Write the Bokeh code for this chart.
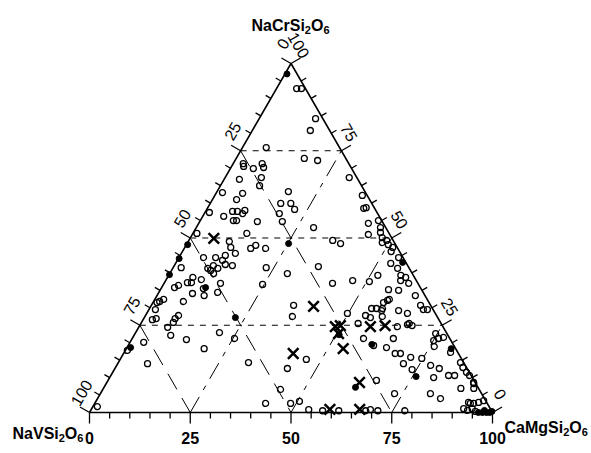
import numpy as np
from bokeh.plotting import figure
from bokeh.models import Range1d
from bokeh.embed import file_html
from bokeh.resources import INLINE
from bokeh.core.properties import value

# Compositions in mol %: CaMgSi2O6 (camg) and NaCrSi2O6 (nacr); NaVSi2O6 = 100 - camg - nacr
open_camg = [5.0, 6.2, 14.0, 14.4, 5.9, 16.9, 20.5, 2.5, 3.0, 5.7, 7.2, 8.1, 9.0, 9.7, 3.8, 6.6, 6.0, 1.5,
             6.7, 7.9, 9.6, 9.5, 8.2, 9.0, 5.2, 1.1, 14.3, 17.7, 17.5, 20.0, 21.8, 18.6, 20.5, 29.1, 30.8,
             36.6, 38.8, 39.3, 42.1, 43.7, 44.2, 45.7, 46.4, 47.6, 48.3, 49.1, 50.1, 51.6, 51.8, 54.5, 53.4,
             35.7, 38.1, 1.0, 10.2, 11.4, 13.4, 16.5, 17.3, 13.4, 20.2, 6.1, 9.1, 11.2, 11.2, 8.7, 9.7,
             12.5, 14.4, 23.1, 35.9, 2.0, 6.3, 5.7, 6.7, 8.7, 10.5, 11.7, 14.6, 14.0, 8.5, 7.4, 3.9, 3.2,
             24.6, 1.0, 1.5, 2.2, 1.6, 2.3, 3.1, 8.2, 7.8, 7.9, 7.2, 9.1, 3.4, 0.5, 7.4, 13.6, 9.7, 10.9,
             11.2, 29.2, 35.3, 36.6, 20.8, 25.4, 19.3, 32.3, 42.8, 44.1, 42.4, 48.6, 50.5, 54.0, 46.2,
             57.6, 61.6, 68.3, 69.3, 71.3, 78.0, 41.8, 46.4, 50.7, 51.9, 55.8, 57.6, 59.1, 60.7, 58.3,
             59.2, 56.6, 57.9, 57.8, 64.1, 66.8, 68.1, 69.1, 64.7, 62.1, 66.6, 67.6, 66.3, 64.1, 64.8,
             64.4, 67.4, 68.7, 71.8, 70.9, 73.9, 80.4, 83.8, 85.3, 77.9, 80.5, 74.7, 74.6, 76.0, 75.1,
             77.1, 81.0, 84.9, 86.2, 87.8, 89.0, 88.7, 91.0, 91.9, 81.9, 85.1, 73.0, 92.6, 94.0, 95.1,
             96.1, 92.3, 49.8, 53.9, 57.4, 55.1, 56.3, 57.9, 58.2, 57.2, 54.6, 56.1, 58.9, 60.9, 66.6,
             1.1, 76.1, 91.2, 93.2, 93.5, 94.4, 95.6]
open_nacr = [92.8, 92.8, 84.2, 80.8, 75.9, 72.8, 72.2, 71.3, 70.5, 69.9, 71.3, 70.2, 67.3, 65.0, 66.8, 62.8,
             61.0, 63.0, 57.6, 57.6, 57.9, 57.0, 55.0, 55.0, 56.2, 57.3, 54.7, 63.3, 59.9, 59.9, 58.2,
             57.0, 54.7, 53.0, 67.3, 62.2, 58.5, 58.7, 54.2, 51.0, 55.0, 53.0, 51.6, 50.1, 48.7, 49.3,
             48.1, 47.3, 46.1, 44.4, 42.7, 49.3, 48.4, 51.3, 49.0, 47.3, 45.6, 47.0, 47.9, 51.3, 47.0,
             44.4, 44.4, 43.6, 45.0, 41.3, 42.1, 42.4, 42.1, 41.5, 41.8, 41.5, 38.7, 37.2, 37.2, 38.1,
             35.5, 33.5, 34.4, 37.0, 34.1, 31.8, 36.4, 35.8, 36.7, 31.5, 31.8, 32.4, 29.5, 26.6, 26.9,
             27.8, 26.9, 25.8, 24.4, 22.1, 20.1, 17.8, 14.0, 20.9, 40.7, 39.8, 41.3, 39.8, 30.7, 27.5,
             22.9, 21.2, 18.3, 14.3, 12.6, 6.6, 2.6, 2.6, 3.2, 0.8, 15.2, 0.5, 0.5, 0.5, 0.8, 0.5, 0.5,
             37.0, 37.8, 37.5, 39.3, 41.3, 39.3, 38.7, 37.0, 37.8, 35.0, 35.2, 32.1, 29.8, 33.5, 30.7,
             29.5, 29.5, 28.4, 29.2, 25.5, 24.9, 25.2, 24.6, 21.2, 18.6, 16.9, 16.9, 15.8, 14.0, 12.3,
             10.0, 10.6, 10.6, 13.5, 12.6, 15.5, 22.6, 21.2, 20.6, 21.5, 17.2, 14.3, 12.9, 11.5, 10.6,
             6.9, 8.6, 6.9, 5.4, 4.0, 5.4, 2.9, 2.6, 2.9, 3.4, 1.1, 28.4, 25.5, 21.2, 29.8, 29.8, 29.2,
             32.4, 31.5, 27.8, 27.2, 27.5, 19.2, 9.2, 1.7, 18.9, 8.3, 2.6, 0.6, 1.1, 0.3]

filled_camg = [0.5, 0.3, 25.2, 0.2, 0.1, 22.6, 0.9, 10.9, 60.3, 62.4, 56.2, 75.9, 80.6, 50.8,
               96.5, 97.5, 98.5, 99.3, 99.7, 97.7]
filled_nacr = [97.0, 48.1, 48.4, 44.1, 39.5, 27.2, 18.6, 35.8, 19.5, 7.2, 43.0, 10.3, 18.3, 22.3,
               0.0, 0.0, 0.0, 0.0, 0.3, 0.6]

cross_camg = [5.9, 40.4, 48.7, 49.8, 50.5, 53.8, 57.4, 60.9, 42.1, 62.7, 66.6, 59.2]
cross_nacr = [49.9, 30.4, 24.6, 24.9, 22.6, 18.3, 24.6, 24.9, 16.9, 8.6, 0.9, 0.9]

grid_levels = [25, 50, 75]
tick_labels = ["0", "25", "50", "75", "100"]
tick_major = [0, 25, 50, 75, 100]
tick_minor = [5, 10, 15, 20, 30, 35, 40, 45, 55, 60, 65, 70, 80, 85, 90, 95]

# end-member labels: (text, is_subscript) pieces
label_top = [("NaCrSi", False), ("2", True), ("O", False), ("6", True)]
label_left = [("NaVSi", False), ("2", True), ("O", False), ("6", True)]
label_right = [("CaMgSi", False), ("2", True), ("O", False), ("6", True)]

H = np.sqrt(3) / 2
PX = 4.03  # pixels per composition unit


def tern(c, r):
    c = np.asarray(c, dtype=float)
    r = np.asarray(r, dtype=float)
    return c + r / 2, r * H


W, HT = 591, 453
x0 = -89 / PX
y1 = 412 / PX
p = figure(width=W, height=HT, x_range=Range1d(x0, x0 + W / PX), y_range=Range1d(y1 - HT / PX, y1),
           toolbar_location=None, output_backend="svg", min_border=0)
p.axis.visible = False
p.grid.visible = False
p.outline_line_color = None
p.background_fill_color = "white"


def px2x(px):
    return (px - 89) / PX


def py2y(py):
    return (412 - py) / PX


# grid lines
lv = np.array(grid_levels, dtype=float)
hx0, hy0 = tern(np.zeros(3), lv)
hx1, hy1 = tern(100 - lv, lv)
p.segment(hx0, hy0, hx1, hy1, line_color="black", line_width=1, line_dash="6 6")
vx0, vy0 = tern(np.zeros(3), 100 - lv)
vx1, vy1 = tern(100 - lv, np.zeros(3))
p.segment(vx0, vy0, vx1, vy1, line_color="black", line_width=1, line_dash="18 10")
cx0, cy0 = tern(lv, np.zeros(3))
cx1, cy1 = tern(lv, 100 - lv)
p.segment(cx0, cy0, cx1, cy1, line_color="black", line_width=1, line_dash="18 8 5 8")

# triangle outline
tx, ty = tern([0, 100, 0, 0], [0, 0, 100, 0])
p.line(tx, ty, line_color="black", line_width=1.6)


# ticks
def ticks(vals, length):
    v = np.array(vals, dtype=float)
    L = length / PX
    bx, by = tern(v, np.zeros_like(v))
    lx, ly = tern(np.zeros_like(v), 100 - v)
    rx, ry = tern(100 - v, v)
    xs0 = np.concatenate([bx, lx, rx])
    ys0 = np.concatenate([by, ly, ry])
    xs1 = np.concatenate([bx, lx - L * H, rx + L * H])
    ys1 = np.concatenate([by - L, ly + L * 0.5, ry + L * 0.5])
    p.segment(xs0, ys0, xs1, ys1, line_color="black", line_width=1.3)


ticks(tick_minor, 6)
ticks(tick_major, 11)

# tick labels
tm = np.array(tick_major, dtype=float)
bx, by = tern(tm, np.zeros_like(tm))
p.text(bx, by - 25 / PX, text=tick_labels, text_align="center", text_baseline="middle",
       text_font=value("Liberation Sans"), text_font_style="bold", text_font_size="16px")
lx, ly = tern(np.zeros_like(tm), 100 - tm)
lx = lx + (17 / PX) * (-H) + (13 / PX) * 0.5
ly = ly + (17 / PX) * 0.5 + (13 / PX) * H
p.text(lx, ly, text=tick_labels, angle=np.pi / 3, text_align="center", text_baseline="middle",
       text_font=value("Liberation Sans"), text_font_size="16px")
rx, ry = tern(100 - tm, tm)
rx = rx + (16 / PX) * H - (12 / PX) * 0.5
ry = ry + (16 / PX) * 0.5 + (12 / PX) * H
p.text(rx, ry, text=tick_labels, angle=-np.pi / 3, text_align="center", text_baseline="middle",
       text_font=value("Liberation Sans"), text_font_size="16px")

# end-member labels with real subscripts
AW = {"N": .722, "a": .556, "C": .722, "r": .389, "S": .667, "i": .278, "O": .778,
      "V": .667, "M": .833, "g": .611}
MAIN, SUB = 16, 11


def chem(left_px, base_px, parts):
    xs, ys, ts, ss = [], [], [], []
    cur = left_px
    for t, sub in parts:
        size = SUB if sub else MAIN
        xs.append(px2x(cur))
        ys.append(py2y(base_px + (4 if sub else 0)))
        ts.append(t)
        ss.append(f"{size}px")
        cur += sum(AW.get(ch, .556) for ch in t) * size
    p.text(xs, ys, text=ts, text_font_size=ss, text_align="left", text_baseline="alphabetic",
           text_font=value("Liberation Sans"), text_font_style="bold")


chem(251, 25, label_top)
chem(12, 433, label_left)
chem(504, 427, label_right)

# data
ox, oy = tern(open_camg, open_nacr)
p.scatter(ox, oy, marker="circle", size=6, fill_color="white", fill_alpha=0.0,
          line_color="black", line_width=1.3)
fx, fy = tern(filled_camg, filled_nacr)
p.scatter(fx, fy, marker="circle", size=6, fill_color="black", line_color="black", line_width=1)
xx, xy = tern(cross_camg, cross_nacr)
p.scatter(xx, xy, marker="x", size=15, line_color="black", line_width=2.5)

open("out.html", "w").write(file_html(p, INLINE))
